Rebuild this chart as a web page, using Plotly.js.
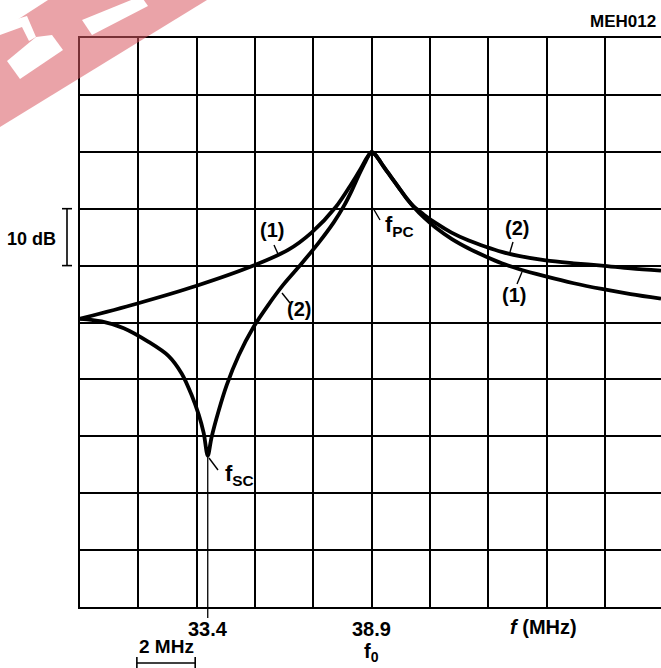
<!DOCTYPE html>
<html>
<head>
<meta charset="utf-8">
<script src="https://cdn.plot.ly/plotly-3.0.1.min.js"></script>
<style>html,body{margin:0;padding:0;background:#fff;}#chart{width:661px;height:668px;}</style>
</head>
<body>
<div id="chart"></div>
<script>
// ---- data (frequency in MHz, relative level in dB) ----
const freq1 = [28.9, 30.84, 32.90, 34.85, 36.05, 36.84, 37.67, 38.21, 38.52, 38.73, 38.9,
               39.02, 39.14, 39.31, 39.55, 39.83, 40.10, 40.34, 40.68, 41.09, 41.64, 42.23, 42.81, 43.36, 43.94, 44.87, 45.83, 46.79, 47.78, 48.82];
const level1 = [-29.35, -26.7, -23.55, -20.0, -17.2, -14.2, -9.7, -5.6, -3.0, -1.1, 0,
                -0.5, -1.3, -2.6, -4.3, -6.3, -8.2, -9.7, -11.5, -13.3, -15.3, -17.0, -18.4, -19.6, -20.6, -21.9, -23.1, -24.1, -25.0, -25.8];
const freq2 = [28.9, 29.64, 30.40, 31.25, 31.94, 32.39, 32.73, 32.97, 33.14, 33.28,
               33.41, 33.65, 33.93, 34.34, 34.85, 35.37, 35.88, 36.47, 37.08, 37.60, 37.94, 38.21, 38.45, 38.66, 38.80, 38.9,
               39.02, 39.14, 39.31, 39.55, 39.83, 40.10, 40.34, 40.68, 41.09, 41.64, 42.23, 42.81, 43.36, 43.94, 44.87, 45.83, 46.79, 47.78, 48.82];
const level2 = [-29.35, -29.8, -31.0, -33.4, -35.9, -39.0, -42.8, -46.2, -49.4, -53.4,
                -50.2, -45.6, -41.0, -35.8, -30.8, -26.8, -23.3, -19.8, -16.0, -12.4, -9.6, -6.9, -4.2, -2.0, -0.6, 0,
                -0.5, -1.3, -2.6, -4.3, -6.3, -8.2, -9.6, -11.0, -12.5, -14.2, -15.6, -16.7, -17.6, -18.3, -19.1, -19.6, -20.0, -20.5, -20.9];
const seriesNames = ["(1)", "(2)"];
const fSC = 33.28;          // series-resonance frequency position (labelled 33.4)
const fSCLabel = "33.4";
const f0 = 38.9;            // parallel-resonance / centre frequency
const f0Label = "38.9";
const scaleBarStart = 30.85; // 2 MHz scale bar
const scaleBarWidth = 2;
const dBScaleTop = -10, dBScaleBottom = -20; // 10 dB bracket

// ---- geometry helpers (pixel -> paper) ----
const L = 80, R = 661, T = 38, B = 607;
const px = x => (x - L) / (R - L);
const py = y => (B - y) / (B - T);

const FONT = "Liberation Sans, Arial, sans-serif";
const lineStyle = {color: "#000", width: 3.8, shape: "spline", smoothing: 0.9};

const traces = [
  {x: freq1, y: level1, name: seriesNames[0], mode: "lines", line: lineStyle, hoverinfo: "skip"},
  {x: freq2, y: level2, name: seriesNames[1], mode: "lines", line: lineStyle, hoverinfo: "skip"}
];

const dipY = Math.min(...level2);

function ann(text, xp, yp, size, bold, extra) {
  return Object.assign({
    text: bold ? "<b>" + text + "</b>" : text,
    xref: "paper", yref: "paper", x: px(xp), y: py(yp),
    xanchor: "center", yanchor: "middle", showarrow: false,
    font: {family: FONT, size: size, color: "#000"}
  }, extra || {});
}
function seg(x0, y0, x1, y1, w, color) {
  return {type: "line", xref: "paper", yref: "paper", x0: px(x0), y0: py(y0), x1: px(x1), y1: py(y1),
          line: {color: color || "#000", width: w || 1.4}, layer: "above"};
}

const annotations = [
  ann("MEH012", 658, 21, 17, true, {xanchor: "right"}),
  ann("10 dB", 58, 239, 18, true, {xanchor: "right"}),
  {text: "<b>" + fSCLabel + "</b>", xref: "x", yref: "paper", x: fSC, y: py(629), xanchor: "center", yanchor: "middle",
   showarrow: false, font: {family: FONT, size: 20, color: "#000"}},
  {text: "<b>" + f0Label + "</b>", xref: "x", yref: "paper", x: f0, y: py(629), xanchor: "center", yanchor: "middle",
   showarrow: false, font: {family: FONT, size: 20, color: "#000"}},
  {text: "<b>f<sub>0</sub></b>", xref: "x", yref: "paper", x: f0, y: py(652), xanchor: "center", yanchor: "middle",
   showarrow: false, font: {family: FONT, size: 20, color: "#000"}},
  ann("<i>f</i> (MHz)", 543, 627, 20, true),
  ann("2 MHz", 166, 646, 19, true),
  ann(seriesNames[0], 272, 230, 20, true),
  ann(seriesNames[1], 299, 309, 20, true),
  ann(seriesNames[1], 517, 228, 20, true),
  ann(seriesNames[0], 514, 295, 20, true),
  ann("f<sub>PC</sub>", 400, 226, 22, true),
  ann("f<sub>SC</sub>", 239, 475, 22, true)
];

const pink = "rgba(217,88,97,0.55)";
const shapes = [
  // leader lines
  seg(274, 245, 278, 254),
  seg(282, 293, 290, 303),
  seg(373, 208, 380, 220),
  seg(513, 242, 510, 252),
  seg(522, 272, 517, 284),
  seg(209, 458, 218, 470),
  // f_SC vertical marker through the axis
  {type: "line", xref: "x", yref: "paper", x0: fSC, x1: fSC, y0: (dipY + 80) / 100, y1: py(618),
   line: {color: "#000", width: 1.3}, layer: "above"},
  // 10 dB bracket
  {type: "line", xref: "paper", yref: "y", x0: px(67), x1: px(67), y0: dBScaleTop, y1: dBScaleBottom, line: {color: "#000", width: 1.6}},
  {type: "line", xref: "paper", yref: "y", x0: px(62), x1: px(72), y0: dBScaleTop, y1: dBScaleTop, line: {color: "#000", width: 1.6}},
  {type: "line", xref: "paper", yref: "y", x0: px(62), x1: px(72), y0: dBScaleBottom, y1: dBScaleBottom, line: {color: "#000", width: 1.6}},
  // 2 MHz scale bar
  {type: "line", xref: "x", yref: "paper", x0: scaleBarStart, x1: scaleBarStart + scaleBarWidth, y0: py(663), y1: py(663), line: {color: "#000", width: 1.6}},
  {type: "line", xref: "x", yref: "paper", x0: scaleBarStart, x1: scaleBarStart, y0: py(657), y1: py(668), line: {color: "#000", width: 1.6}},
  {type: "line", xref: "x", yref: "paper", x0: scaleBarStart + scaleBarWidth, x1: scaleBarStart + scaleBarWidth, y0: py(657), y1: py(668), line: {color: "#000", width: 1.6}},
  // watermark corner (pink band with white cut-outs)
  {type: "path", xref: "paper", yref: "paper", layer: "above", line: {width: 0}, fillcolor: pink,
   path: "M " + px(0) + "," + py(31) + " L " + px(48) + "," + py(0) + " L " + px(207) + "," + py(0) + " L " + px(0) + "," + py(127) + " Z"},
  {type: "path", xref: "paper", yref: "paper", layer: "above", line: {width: 0}, fillcolor: "#fff",
   path: "M " + px(0) + "," + py(24) + " L " + px(27) + "," + py(16) + " L " + px(36) + "," + py(37) + " L " + px(29) + "," + py(41) + " L " + px(22) + "," + py(27) + " L " + px(0) + "," + py(35) + " Z"},
  {type: "path", xref: "paper", yref: "paper", layer: "above", line: {width: 0}, fillcolor: "#fff",
   path: "M " + px(7) + "," + py(61) + " L " + px(20) + "," + py(79) + " L " + px(63) + "," + py(50) + " L " + px(52) + "," + py(35) + " L " + px(36) + "," + py(37) + " Z"},
  {type: "path", xref: "paper", yref: "paper", layer: "above", line: {width: 0}, fillcolor: "#fff",
   path: "M " + px(82) + "," + py(20) + " L " + px(92) + "," + py(35) + " L " + px(148) + "," + py(6) + " L " + px(141) + "," + py(-4) + " Z"}
];

const layout = {
  width: 661, height: 668,
  margin: {l: L, r: 661 - R, t: T, b: 668 - B, pad: 0},
  paper_bgcolor: "#fff", plot_bgcolor: "#fff",
  showlegend: false,
  xaxis: {range: [28.9, 28.9 + (R - L) / 29.165], tick0: 28.9, dtick: 2, showgrid: true, gridcolor: "#000", gridwidth: 2,
          zeroline: false, showticklabels: false, ticks: "", showline: true, linecolor: "#000", linewidth: 2.2, mirror: true, fixedrange: true},
  yaxis: {range: [-80, 20], tick0: -80, dtick: 10, showgrid: true, gridcolor: "#000", gridwidth: 2,
          zeroline: false, showticklabels: false, ticks: "", showline: true, linecolor: "#000", linewidth: 2.2, fixedrange: true},
  annotations: annotations,
  shapes: shapes,
  font: {family: FONT, color: "#000"}
};

Plotly.newPlot("chart", traces, layout, {staticPlot: true, displayModeBar: false});
</script>
</body>
</html>
